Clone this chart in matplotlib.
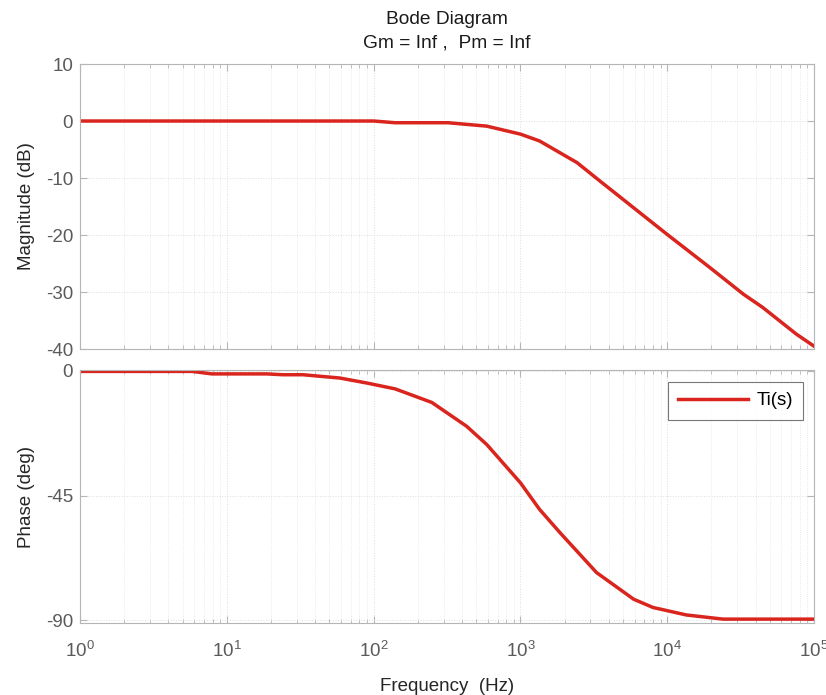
import matplotlib
matplotlib.use("Agg")
import matplotlib.pyplot as plt
from matplotlib.ticker import LogLocator, FixedLocator, NullFormatter

plt.rcParams['font.family'] = ['Liberation Sans', 'DejaVu Sans']
plt.rcParams['mathtext.fontset'] = 'custom'
plt.rcParams['mathtext.rm'] = 'Liberation Sans'
plt.rcParams['axes.unicode_minus'] = False

# magnitude
mag_freq = [1, 100, 140, 321, 590, 1000, 1350, 2430, 3470, 5890, 10000,
            19500, 33100, 44700, 75900, 100000]
mag_db = [0.0, 0.0, -0.3, -0.3, -0.9, -2.3, -3.5, -7.3, -10.5, -15.2, -19.9,
          -25.7, -30.4, -32.7, -37.4, -39.5]

# phase
ph_freq = [1, 5.8, 7.9, 18.7, 24, 33, 59, 90, 140, 249, 430, 590, 1000,
           1350, 1860, 3300, 5900, 8000, 13500, 24000, 100000]
ph_deg = [-0.2, -0.2, -1.1, -1.1, -1.4, -1.4, -2.6, -4.4, -6.5, -11.4, -20.0,
          -26.6, -40.4, -50.0, -58.4, -72.8, -82.4, -85.4, -88.1, -89.6, -89.6]

line_color = '#d9251d'
tick_color = '#5a5a5a'
edge_color = '#b5b5b5'

fig = plt.figure(figsize=(8.26, 6.95), dpi=100)
ax1 = fig.add_axes([0.0969, 0.4978, 0.8886, 0.4101])
ax2 = fig.add_axes([0.0969, 0.1036, 0.8886, 0.3640])

ax1.semilogx(mag_freq, mag_db, color=line_color, linewidth=2.5)
ax2.semilogx(ph_freq, ph_deg, color=line_color, linewidth=2.5, label='Ti(s)')

ax1.set_ylim(-40, 10)
ax1.set_yticks([-40, -30, -20, -10, 0, 10])
ax2.set_ylim(-91, 0.3)
ax2.yaxis.set_major_locator(FixedLocator([-90, -45, 0]))

for ax in (ax1, ax2):
    ax.set_xlim(1, 1e5)
    ax.xaxis.set_major_locator(LogLocator(base=10, numticks=10))
    ax.xaxis.set_minor_locator(LogLocator(base=10, subs=range(2, 10), numticks=20))
    ax.xaxis.set_minor_formatter(NullFormatter())
    ax.grid(True, which='major', color='#dedede', linewidth=0.7, linestyle=':')
    ax.grid(True, which='minor', axis='x', color='#e4e4e4', linewidth=0.6, linestyle=':')
    ax.tick_params(which='both', direction='in', colors=edge_color,
                   labelcolor=tick_color, labelsize=13.5, top=True, right=True)
    ax.tick_params(which='major', length=5)
    ax.tick_params(which='minor', length=3)
    ax.tick_params(axis='y', pad=5)
    ax.tick_params(axis='x', pad=13)
    for sp in ax.spines.values():
        sp.set_color(edge_color)
    ax.set_axisbelow(True)

ax1.tick_params(labelbottom=False)
ax1.set_ylabel('Magnitude (dB)', fontsize=13.5, color='#262626', labelpad=8)
ax2.set_ylabel('Phase (deg)', fontsize=13.5, color='#262626', labelpad=8)
ax2.set_xlabel('Frequency  (Hz)', fontsize=13.5, color='#262626', labelpad=12)
ax1.set_title('Bode Diagram\nGm = Inf ,  Pm = Inf', fontsize=13.8,
              color='#1a1a1a', pad=12, linespacing=1.45)

leg = ax2.legend(loc='upper right', fontsize=13.5, fancybox=False,
                 handlelength=3.7, handletextpad=0.45, borderaxespad=0,
                 borderpad=0.55, bbox_to_anchor=(0.985, 0.953))
leg.get_frame().set_edgecolor('#555555')
leg.get_frame().set_linewidth(0.8)

fig.savefig('out.png', dpi=100)
